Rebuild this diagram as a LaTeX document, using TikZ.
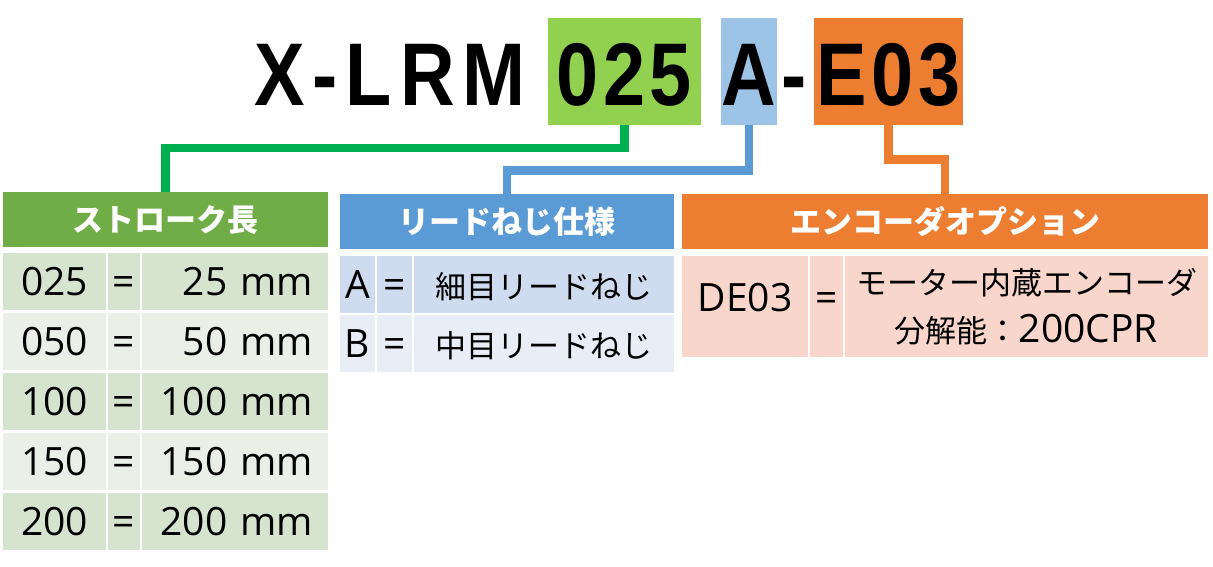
\documentclass[tikz,border=0pt]{standalone}
\usepackage{fontspec}
\setmainfont{Open Sans}
\newfontfamily\jpfont{Noto Sans CJK JP}
\newfontfamily\titlefont[FakeStretch=0.85,LetterSpace=5]{Liberation Sans}
\newfontfamily\modelfont[FakeStretch=0.85,LetterSpace=9]{Liberation Sans}
\usetikzlibrary{positioning}
\definecolor{tgreen}{HTML}{92D050}
\definecolor{tblue}{HTML}{9DC3E6}
\definecolor{torange}{HTML}{ED7D31}
\definecolor{lgreen}{HTML}{00B050}
\definecolor{lblue}{HTML}{5B9BD5}
\definecolor{hgreen}{HTML}{70AD47}
\definecolor{hblue}{HTML}{5B9BD5}
\definecolor{horange}{HTML}{ED7D31}
\definecolor{sgA}{HTML}{D5E3CF}
\definecolor{sgB}{HTML}{EAF0E8}
\definecolor{sbA}{HTML}{CFDBEE}
\definecolor{sbB}{HTML}{E8EDF6}
\definecolor{soA}{HTML}{F8D6CB}
\newcommand{\jtext}[1]{{\jpfont\fontsize{31}{48}\selectfont #1}}
\tikzset{tbox/.style = {fill=#1, inner sep=0, text height=87pt, text depth=20pt, anchor=base,
                        font=\titlefont\bfseries\fontsize{89}{89}\selectfont}}
\tikzset{ttext/.style = {inner sep=0, font=\titlefont\bfseries\fontsize{89}{89}\selectfont}}
\tikzset{conn/.style = {draw=#1, line width=8.5pt, line join=miter}}
\tikzset{hdr/.style = {fill=#1, text=white, inner sep=0, minimum height=55pt,
                       font=\jpfont\bfseries\fontsize{31}{31}\selectfont}}
\tikzset{cell/.style = {fill=#1, inner sep=0, anchor=base, text height=42.5pt, text depth=14.5pt,
                        font=\fontsize{39}{48}\selectfont}}

\begin{document}
\begin{tikzpicture}[x=1pt, y=-1pt]
      \useasboundingbox (0,0) rectangle (1213,566);

      % part number
      \node [ttext, font=\modelfont\bfseries\fontsize{89}{89}\selectfont, anchor=base east]
        (tModel) at (526,105) {X-LRM};
      \node [tbox=tgreen, minimum width=153pt] (b025) at (624.5,105) {025};
      \node [tbox=tblue, minimum width=56pt] (bA) at (749,105) {A};
      \node [ttext, anchor=base] (tDash) at (794.5,105) {-};
      \node [tbox=torange, minimum width=149.5pt] (bE) at (888.5,105) {E03};

      % headers
      \node [hdr=hgreen, minimum width=325pt] (hStroke) at (165.5,219.5) {ストローク長};
      \node [hdr=hblue, minimum width=334pt] (hLead) at (507,221.5) {リードねじ仕様};
      \node [hdr=horange, minimum width=526pt] (hEnc) at (945,221.5) {エンコーダオプション};

      \draw [conn=lgreen] (b025.south) -- ++(0,23) -| (hStroke.north);
      \draw [conn=lblue] (bA.south) -- ++(0,45.5) -| (hLead.north);
      \draw [conn=torange] (bE.south) -- ++(0,34.5) -| (hEnc.north);

      % stroke table
      \foreach \k/\v/\c [count=\i from 0] in {025/25/sgA, 050/50/sgB, 100/100/sgA,
                                               150/150/sgB, 200/200/sgA} {
        \node [cell=\c, minimum width=103pt] (sk\i) at (54.5,{295.5+60*\i}) {\k};
        \node [cell=\c, minimum width=32pt] (se\i) at (124,{295.5+60*\i}) {=};
        \node [cell=\c, text width=156pt, inner xsep=15pt, align=right]
          (sv\i) at (235,{295.5+60*\i}) {\v~mm};
      }

      % lead table
      \foreach \k/\v/\c [count=\i from 0] in {A/細目/sbA, B/中目/sbB} {
        \node [cell=\c, minimum width=35pt] (lk\i) at (357.5,{298.5+59*\i}) {\k};
        \node [cell=\c, minimum width=35pt] (le\i) at (394.5,{298.5+59*\i}) {=};
        \node [cell=\c, minimum width=260pt] (lv\i) at (544,{298.5+59*\i}) {\jtext{\v リードねじ}};
      }

      % encoder table
      \node [cell=soA, minimum width=126pt, text height=55pt, text depth=46pt]
        (ek) at (745,311) {DE03};
      \node [cell=soA, minimum width=33pt, text height=55pt, text depth=46pt]
        (ee) at (826.5,311) {=};
      \node [cell=soA, anchor=center, text height=, text depth=, minimum width=363pt,
             minimum height=101pt, align=center]
        (ev) at (1026.5,306.5) {\jtext{モーター内蔵エンコーダ}\\\jtext{分解能：}200CPR};
\end{tikzpicture}
\end{document}
